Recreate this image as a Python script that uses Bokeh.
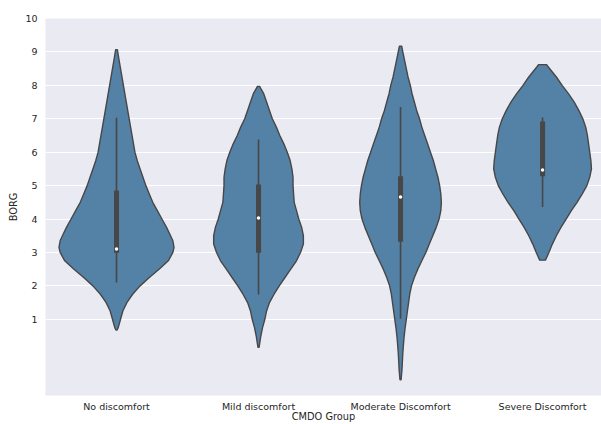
from bokeh.plotting import figure
from bokeh.models import Range1d, FixedTicker
from bokeh.embed import file_html
from bokeh.resources import INLINE

# Groups on the x axis
groups = ["No discomfort", "Mild discomfort", "Moderate Discomfort", "Severe Discomfort"]

# Violin outlines: BORG levels and relative half-widths (1.0 = widest violin)
no_levels = [0.68, 0.75, 1.0, 1.25, 1.5, 1.75, 2.0, 2.25, 2.5, 2.75, 3.0, 3.15, 3.35, 3.5,
             3.75, 4.0, 4.25, 4.5, 4.75, 5.0, 5.25, 5.5, 5.75, 6.0, 6.5, 7.0, 7.5, 8.0,
             8.5, 8.8, 9.07]
no_widths = [0.01, 0.03, 0.07, 0.11, 0.18, 0.28, 0.41, 0.57, 0.74, 0.90, 0.98, 1.0, 0.98, 0.94,
             0.87, 0.79, 0.71, 0.63, 0.57, 0.51, 0.46, 0.41, 0.36, 0.32, 0.27, 0.22, 0.17, 0.12,
             0.07, 0.04, 0.015]

mild_levels = [0.16, 0.5, 0.75, 1.0, 1.25, 1.5, 1.75, 2.0, 2.25, 2.5, 2.75, 3.0, 3.25, 3.5,
               3.75, 4.0, 4.25, 4.5, 4.75, 5.0, 5.25, 5.5, 5.75, 6.0, 6.25, 6.5, 6.75, 7.0,
               7.25, 7.5, 7.75, 7.9, 7.97]
mild_widths = [0.01, 0.04, 0.07, 0.11, 0.14, 0.19, 0.27, 0.36, 0.46, 0.56, 0.66, 0.73, 0.78, 0.78,
               0.75, 0.70, 0.66, 0.62, 0.61, 0.60, 0.60, 0.58, 0.55, 0.50, 0.44, 0.37, 0.31, 0.24,
               0.19, 0.14, 0.09, 0.04, 0.02]

moderate_levels = [-0.81, -0.5, -0.16, 0.0, 0.44, 0.75, 1.0, 1.25, 1.5, 1.75, 2.0, 2.25, 2.5,
                   2.75, 3.0, 3.25, 3.5, 3.75, 4.0, 4.25, 4.5, 4.75, 5.0, 5.25, 5.5, 5.75, 6.0,
                   6.25, 6.5, 6.75, 7.0, 7.25, 7.5, 7.75, 8.0, 8.25, 8.5, 8.75, 9.0, 9.17]
moderate_widths = [0.01, 0.025, 0.035, 0.04, 0.06, 0.08, 0.10, 0.12, 0.14, 0.16, 0.19, 0.24, 0.30,
                   0.37, 0.44, 0.50, 0.56, 0.62, 0.67, 0.70, 0.71, 0.70, 0.68, 0.65, 0.61, 0.57, 0.52,
                   0.47, 0.42, 0.37, 0.33, 0.28, 0.24, 0.20, 0.17, 0.13, 0.10, 0.07, 0.04, 0.02]

severe_levels = [2.77, 3.0, 3.25, 3.5, 3.75, 4.0, 4.25, 4.5, 4.75, 5.0, 5.25, 5.5, 5.75, 6.0,
                 6.25, 6.5, 6.75, 7.0, 7.25, 7.5, 7.75, 8.0, 8.25, 8.4, 8.55, 8.62]
severe_widths = [0.05, 0.11, 0.17, 0.24, 0.32, 0.41, 0.50, 0.60, 0.69, 0.77, 0.82, 0.85, 0.84, 0.82,
                 0.80, 0.78, 0.75, 0.70, 0.63, 0.55, 0.45, 0.34, 0.24, 0.17, 0.10, 0.07]

# Inner box summary per group
whisker_low = [2.1, 1.74, 1.02, 4.36]
quartile1 = [2.99, 2.99, 3.32, 5.28]
medians = [3.1, 4.03, 4.66, 5.47]
quartile3 = [4.85, 5.03, 5.28, 6.92]
whisker_high = [7.03, 6.38, 7.35, 7.04]

y_ticks = [1, 2, 3, 4, 5, 6, 7, 8, 9, 10]

profiles = [(no_levels, no_widths), (mild_levels, mild_widths),
            (moderate_levels, moderate_widths), (severe_levels, severe_widths)]

FILL = "#5481a6"
EDGE = "#474747"
TEXT = "#262626"
FONT = "DejaVu Sans"
HALF = 0.405  # half-width of the widest violin, in category units

p = figure(width=601, height=424, output_backend="svg", toolbar_location=None,
           x_range=Range1d(-0.5, 3.415), y_range=Range1d(-1.28, 10.0),
           min_border_left=45, min_border_top=18, min_border_right=0, min_border_bottom=28)

p.background_fill_color = "#eaeaf2"
p.border_fill_color = "white"
p.outline_line_color = None

# violins
for i, (levels, widths) in enumerate(profiles):
    left = [i - HALF * w for w in widths]
    right = [i + HALF * w for w in widths]
    xs = left + right[::-1]
    ys = list(levels) + list(levels)[::-1]
    p.patch(xs, ys, fill_color=FILL, line_color=EDGE, line_width=1.4)

# inner box: whiskers, IQR bar, median dot
xs_pos = list(range(len(groups)))
p.segment(x0=xs_pos, y0=whisker_low, x1=xs_pos, y1=whisker_high,
          line_color=EDGE, line_width=1.6)
p.segment(x0=xs_pos, y0=quartile1, x1=xs_pos, y1=quartile3,
          line_color=EDGE, line_width=5, line_cap="butt")
p.scatter(x=xs_pos, y=medians, marker="circle", size=3.5,
          fill_color="white", line_color=None)

# axes
p.xaxis.ticker = FixedTicker(ticks=xs_pos)
p.xaxis.major_label_overrides = {i: g for i, g in enumerate(groups)}
p.yaxis.ticker = FixedTicker(ticks=y_ticks)
p.xaxis.axis_label = "CMDO Group"
p.yaxis.axis_label = "BORG"

for ax in (p.xaxis, p.yaxis):
    ax.axis_line_color = None
    ax.major_tick_line_color = None
    ax.minor_tick_line_color = None
    ax.major_tick_out = 0
    ax.major_tick_in = 0
    ax.major_label_text_font = FONT
    ax.major_label_text_font_size = "9.5px"
    ax.major_label_text_color = TEXT
    ax.axis_label_text_font = FONT
    ax.axis_label_text_font_size = "9.8px"
    ax.axis_label_text_font_style = "normal"
    ax.axis_label_text_color = TEXT

p.xaxis.major_label_standoff = 5
p.xaxis.axis_label_standoff = -4
p.yaxis.major_label_standoff = 8
p.yaxis.axis_label_standoff = 3

p.xgrid.grid_line_color = None
p.ygrid.grid_line_color = "white"
p.ygrid.grid_line_width = 1.1

open("out.html", "w").write(file_html(p, INLINE))
